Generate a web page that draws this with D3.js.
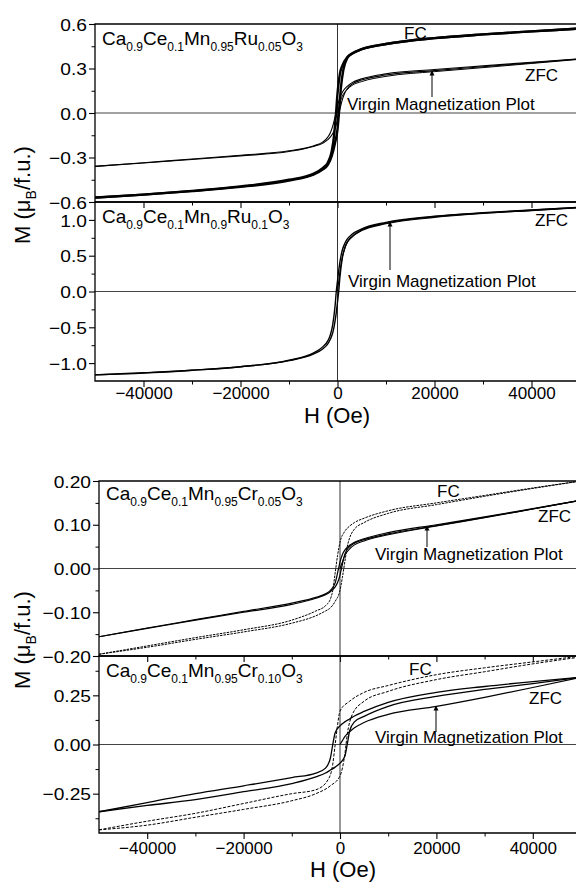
<!DOCTYPE html>
<html><head><meta charset="utf-8">
<script src="https://cdn.jsdelivr.net/npm/d3@7"></script>
<style>body{margin:0;background:#fff}svg{display:block}text{font-family:"Liberation Sans",Arial,Helvetica,sans-serif;fill:#000}</style>
</head><body>
<script>
// ---------- DATA ----------
const xTicksMajor = [-40000, -20000, 0, 20000, 40000];
const xTicksMinor = [-30000, -10000, 10000, 30000];

// Panel 1: Ca0.9Ce0.1Mn0.95Ru0.05O3
const ru05Ticks = [0.6, 0.3, 0.0, -0.3, -0.6];
const ru05Minor = [0.45, 0.15, -0.15, -0.45];
const ru05FCup = [[-50000,-0.57],[-40000,-0.55],[-30000,-0.525],[-20000,-0.495],[-10000,-0.45],[-5000,-0.41],[-3000,-0.37],[-2000,-0.335],[-1200,-0.26],[-700,-0.15],[-300,0.0],[0,0.13],[500,0.265],[1000,0.32],[2000,0.375],[3000,0.40],[5000,0.43],[10000,0.465],[20000,0.505],[30000,0.53],[40000,0.55],[50000,0.57]];
const ru05FClo = [[-50000,-0.57],[-40000,-0.55],[-30000,-0.527],[-20000,-0.498],[-10000,-0.455],[-5000,-0.415],[-3000,-0.38],[-2000,-0.35],[-1200,-0.29],[-500,-0.2],[0,-0.11],[300,0.0],[700,0.17],[1200,0.29],[2000,0.37],[3000,0.402],[5000,0.43],[10000,0.465],[20000,0.505],[30000,0.53],[40000,0.55],[50000,0.57]];
const ru05ZFCup = [[-50000,-0.36],[-40000,-0.335],[-30000,-0.31],[-20000,-0.285],[-10000,-0.255],[-5000,-0.222],[-3000,-0.195],[-2000,-0.163],[-1500,-0.135],[-1000,-0.09],[-600,-0.04],[-300,0.0],[0,0.045],[500,0.105],[1000,0.14],[2000,0.18],[3000,0.205],[5000,0.23],[10000,0.264],[20000,0.293],[30000,0.318],[40000,0.342],[50000,0.366]];
const ru05ZFClo = [[-50000,-0.36],[-40000,-0.337],[-30000,-0.313],[-20000,-0.289],[-10000,-0.26],[-5000,-0.226],[-3000,-0.203],[-2000,-0.18],[-1000,-0.14],[-500,-0.105],[0,-0.045],[300,0.0],[600,0.04],[1000,0.09],[1500,0.135],[2000,0.163],[3000,0.195],[5000,0.222],[10000,0.256],[20000,0.286],[30000,0.312],[40000,0.338],[50000,0.365]];
const ru05Virgin = [[0,0],[300,0.04],[700,0.09],[1000,0.115],[2000,0.158],[3000,0.186],[5000,0.212],[10000,0.247],[20000,0.279],[30000,0.306],[40000,0.334],[50000,0.362]];

// Panel 2: Ca0.9Ce0.1Mn0.9Ru0.1O3
const ru10Ticks = [1.0, 0.5, 0.0, -0.5, -1.0];
const ru10Minor = [0.75, 0.25, -0.25, -0.75];
const ru10ZFCup = [[-50000,-1.165],[-40000,-1.135],[-30000,-1.10],[-20000,-1.05],[-10000,-0.96],[-5000,-0.86],[-3000,-0.77],[-2000,-0.69],[-1500,-0.61],[-1000,-0.47],[-500,-0.2],[-250,0.0],[0,0.15],[300,0.32],[700,0.49],[1000,0.58],[1500,0.67],[2000,0.73],[3000,0.80],[5000,0.875],[10000,0.965],[20000,1.05],[30000,1.10],[40000,1.14],[50000,1.175]];
const ru10ZFClo = [[-50000,-1.165],[-40000,-1.14],[-30000,-1.10],[-20000,-1.05],[-10000,-0.965],[-5000,-0.875],[-3000,-0.80],[-2000,-0.73],[-1500,-0.67],[-1000,-0.58],[-700,-0.49],[-300,-0.32],[0,-0.15],[250,0.0],[500,0.2],[1000,0.47],[1500,0.61],[2000,0.69],[3000,0.77],[5000,0.86],[10000,0.955],[20000,1.045],[30000,1.095],[40000,1.135],[50000,1.175]];
const ru10Virgin = [[0,0],[300,0.17],[700,0.37],[1000,0.48],[1500,0.60],[2000,0.68],[3000,0.76],[5000,0.85],[10000,0.945],[20000,1.035],[30000,1.09],[40000,1.13],[50000,1.17]];

// Panel 3: Ca0.9Ce0.1Mn0.95Cr0.05O3
const cr05Ticks = [0.20, 0.10, 0.00, -0.10, -0.20];
const cr05Minor = [0.15, 0.05, -0.05, -0.15];
const cr05FCup = [[-50000,-0.196],[-40000,-0.177],[-30000,-0.158],[-20000,-0.140],[-10000,-0.118],[-5000,-0.097],[-3000,-0.085],[-2000,-0.07],[-1500,-0.05],[-1000,-0.01],[-500,0.03],[0,0.06],[1000,0.085],[2000,0.097],[3000,0.105],[5000,0.115],[10000,0.132],[20000,0.150],[30000,0.167],[40000,0.184],[50000,0.200]];
const cr05FClo = [[-50000,-0.196],[-40000,-0.180],[-30000,-0.162],[-20000,-0.145],[-10000,-0.125],[-5000,-0.108],[-3000,-0.097],[-2000,-0.09],[-1000,-0.075],[0,-0.05],[500,-0.02],[1000,0.015],[1500,0.05],[2000,0.07],[3000,0.09],[5000,0.105],[10000,0.126],[20000,0.146],[30000,0.165],[40000,0.183],[50000,0.200]];
const cr05ZFCup = [[-50000,-0.156],[-40000,-0.136],[-30000,-0.117],[-20000,-0.098],[-10000,-0.079],[-5000,-0.066],[-3000,-0.058],[-2000,-0.05],[-1000,-0.033],[-700,-0.02],[-300,0.0],[0,0.015],[500,0.032],[1000,0.042],[2000,0.053],[3000,0.060],[5000,0.068],[10000,0.082],[20000,0.100],[30000,0.118],[40000,0.137],[50000,0.156]];
const cr05ZFClo = [[-50000,-0.156],[-40000,-0.137],[-30000,-0.118],[-20000,-0.100],[-10000,-0.082],[-5000,-0.068],[-3000,-0.060],[-2000,-0.053],[-1000,-0.042],[-500,-0.032],[0,-0.015],[300,0.0],[700,0.02],[1000,0.033],[2000,0.05],[3000,0.058],[5000,0.066],[10000,0.079],[20000,0.098],[30000,0.117],[40000,0.136],[50000,0.156]];
const cr05Virgin = [[0,0],[500,0.015],[1000,0.03],[2000,0.045],[3000,0.054],[5000,0.063],[10000,0.077],[20000,0.097],[30000,0.116],[40000,0.136],[50000,0.156]];

// Panel 4: Ca0.9Ce0.1Mn0.95Cr0.10O3
const cr10Ticks = [0.25, 0.00, -0.25];
const cr10Minor = [0.375, 0.125, -0.125, -0.375];
const cr10FCup = [[-50000,-0.434],[-40000,-0.39],[-30000,-0.35],[-20000,-0.30],[-10000,-0.25],[-5000,-0.23],[-2500,-0.18],[-1500,-0.1],[-1000,0.0],[-500,0.1],[0,0.17],[2000,0.22],[5000,0.265],[10000,0.30],[20000,0.355],[30000,0.39],[40000,0.42],[50000,0.45]];
const cr10FClo = [[-50000,-0.434],[-40000,-0.41],[-30000,-0.37],[-20000,-0.33],[-10000,-0.286],[-5000,-0.25],[-2000,-0.21],[0,-0.16],[1000,-0.05],[1500,0.05],[2500,0.15],[5000,0.22],[10000,0.27],[20000,0.33],[30000,0.37],[40000,0.41],[50000,0.445]];
const cr10ZFCup = [[-50000,-0.342],[-40000,-0.295],[-30000,-0.25],[-20000,-0.21],[-10000,-0.168],[-5000,-0.145],[-3000,-0.12],[-2000,-0.07],[-1500,0.0],[-1000,0.06],[0,0.095],[1000,0.115],[2000,0.13],[3000,0.145],[5000,0.168],[10000,0.214],[20000,0.265],[30000,0.295],[40000,0.32],[50000,0.342]];
const cr10ZFClo = [[-50000,-0.342],[-40000,-0.31],[-30000,-0.28],[-20000,-0.24],[-10000,-0.199],[-5000,-0.165],[-3000,-0.145],[-2000,-0.13],[-1000,-0.115],[0,-0.095],[1000,-0.06],[1500,0.0],[2000,0.07],[3000,0.115],[5000,0.143],[10000,0.194],[20000,0.245],[30000,0.28],[40000,0.31],[50000,0.342]];
const cr10Virgin = [[0,0],[500,0.02],[1000,0.04],[2000,0.065],[3000,0.085],[5000,0.112],[10000,0.153],[20000,0.194],[30000,0.24],[40000,0.29],[50000,0.342]];

// ---------- DRAW ----------
const W = 576, Hgt = 882;
const svg = d3.select("body").append("svg").attr("width", W).attr("height", Hgt);
const FONT = '"Liberation Sans",Arial,Helvetica,sans-serif';

const defs = svg.append("defs");
defs.append("marker").attr("id","ah").attr("viewBox","0 0 10 10").attr("refX",9).attr("refY",5)
  .attr("markerWidth",5).attr("markerHeight",6).attr("markerUnits","userSpaceOnUse").attr("orient","auto")
  .append("path").attr("d","M0,0L10,5L0,10z").attr("fill","#000");

const figures = [
  { xRange:[95,580], tickLabelY:399, titleY:423, titleX:337,
    yLabelY:195,
    panels:[
      { top:24, bottom:202, domain:[-0.6,0.6], ticks:ru05Ticks, minor:ru05Minor, fmt:d3.format(".1f"),
        formula:[["Ca"],["0.9",1],["Ce"],["0.1",1],["Mn"],["0.95",1],["Ru"],["0.05",1],["O"],["3",1]], fy:45,
        series:[
          {d:ru05FCup, w:2.4},{d:ru05FClo, w:2.4},
          {d:ru05ZFCup, w:1.1},{d:ru05ZFClo, w:1.1},{d:ru05Virgin, w:1.0}],
        notes:[{t:"FC",x:404,y:39},{t:"ZFC",x:525,y:81},{t:"Virgin Magnetization Plot",x:347,y:110}],
        arrow:{x:432,y1:97,y2:71}},
      { top:202, bottom:381, domain:[-1.25,1.25], ticks:ru10Ticks, minor:ru10Minor, fmt:d3.format(".1f"),
        formula:[["Ca"],["0.9",1],["Ce"],["0.1",1],["Mn"],["0.9",1],["Ru"],["0.1",1],["O"],["3",1]], fy:223,
        series:[{d:ru10ZFCup, w:1.4},{d:ru10ZFClo, w:1.4},{d:ru10Virgin, w:1.1}],
        notes:[{t:"ZFC",x:535,y:226},{t:"Virgin Magnetization Plot",x:348,y:287}],
        arrow:{x:390,y1:270,y2:222}}
    ]},
  { xRange:[99,581], tickLabelY:854, titleY:877, titleX:343,
    yLabelY:640,
    panels:[
      { top:481, bottom:656, domain:[-0.2,0.2], ticks:cr05Ticks, minor:cr05Minor, fmt:d3.format(".2f"),
        formula:[["Ca"],["0.9",1],["Ce"],["0.1",1],["Mn"],["0.95",1],["Cr"],["0.05",1],["O"],["3",1]], fy:500,
        series:[
          {d:cr05FCup, w:1.0, dash:"2.5,1"},{d:cr05FClo, w:1.0, dash:"2.5,1"},
          {d:cr05ZFCup, w:1.2},{d:cr05ZFClo, w:1.2},{d:cr05Virgin, w:1.1}],
        notes:[{t:"FC",x:437,y:497},{t:"ZFC",x:538,y:522},{t:"Virgin Magnetization Plot",x:375,y:560}],
        arrow:{x:427,y1:547,y2:526}},
      { top:656, bottom:833, domain:[-0.45,0.45], ticks:cr10Ticks, minor:cr10Minor, fmt:d3.format(".2f"),
        formula:[["Ca"],["0.9",1],["Ce"],["0.1",1],["Mn"],["0.95",1],["Cr"],["0.10",1],["O"],["3",1]], fy:677,
        series:[
          {d:cr10FCup, w:1.0, dash:"3,1.5"},{d:cr10FClo, w:1.0, dash:"3,1.5"},
          {d:cr10ZFCup, w:1.3},{d:cr10ZFClo, w:1.3},{d:cr10Virgin, w:1.2}],
        notes:[{t:"FC",x:409,y:675},{t:"ZFC",x:529,y:704},{t:"Virgin Magnetization Plot",x:375,y:743}],
        arrow:{x:436,y1:732,y2:706}}
    ]}
];

let clipId = 0;
figures.forEach(fig => {
  const x = d3.scaleLinear().domain([-50000,50000]).range(fig.xRange);
  const left = fig.xRange[0];
  const g = svg.append("g");

  fig.panels.forEach((p, pi) => {
    const y = d3.scaleLinear().domain(p.domain).range([p.bottom, p.top]);
    const id = "clip" + (clipId++);
    defs.append("clipPath").attr("id", id).append("rect")
      .attr("x", left).attr("y", p.top).attr("width", W - left).attr("height", p.bottom - p.top);

    // zero lines
    g.append("line").attr("x1", left).attr("x2", W).attr("y1", y(0)).attr("y2", y(0))
      .attr("stroke", "#444").attr("stroke-width", 1);
    g.append("line").attr("x1", x(0)).attr("x2", x(0)).attr("y1", p.top).attr("y2", p.bottom)
      .attr("stroke", "#333").attr("stroke-width", 1);

    // curves
    const line = d3.line().x(d => x(d[0])).y(d => y(d[1])).curve(d3.curveMonotoneX);
    const cg = g.append("g").attr("clip-path", `url(#${id})`);
    p.series.forEach(s => {
      cg.append("path").attr("d", line(s.d)).attr("fill", "none").attr("stroke", "#000")
        .attr("stroke-width", s.w).attr("stroke-dasharray", s.dash || null)
        .attr("stroke-linejoin", "round");
    });

    // y axis
    const ya = d3.axisLeft(y).tickValues(p.ticks).tickFormat(p.fmt).tickSize(6).tickPadding(2);
    const yg = g.append("g").attr("transform", `translate(${left},0)`).call(ya);
    yg.select(".domain").remove();
    yg.selectAll("text").style("font-size", "17px").style("font-family", FONT).attr("dy", "0.36em")
      .attr("x", null)
      .attr("transform", "translate(-8,0) scale(1.13,1)");
    yg.selectAll("line").attr("stroke-width", 1.1);
    const ym = d3.axisLeft(y).tickValues(p.minor).tickFormat("").tickSize(3.5);
    const ymg = g.append("g").attr("transform", `translate(${left},0)`).call(ym);
    ymg.select(".domain").remove();

    // x axis ticks on panel bottom
    const xa = d3.axisBottom(x).tickValues(xTicksMajor).tickSize(6).tickFormat(pi === fig.panels.length - 1 ? d3.format("d") : "");
    const xg = g.append("g").attr("transform", `translate(0,${p.bottom})`).call(xa);
    xg.select(".domain").remove();
    xg.selectAll("text").style("font-size", "17px").style("font-family", FONT).attr("y", null).attr("dy", null)
      .attr("transform", `translate(0,${fig.tickLabelY - p.bottom})`);
    xg.selectAll("line").attr("stroke-width", 1.1);
    const xm = d3.axisBottom(x).tickValues(xTicksMinor).tickSize(3.5).tickFormat("");
    const xmg = g.append("g").attr("transform", `translate(0,${p.bottom})`).call(xm);
    xmg.select(".domain").remove();

    // frame
    g.append("path").attr("d", `M${W+5},${p.top}H${left}V${p.bottom}H${W+5}`)
      .attr("fill", "none").attr("stroke", "#000").attr("stroke-width", 1.3);

    // formula label
    const ft = g.append("text").attr("x", left + 7).attr("y", p.fy).style("font-size", "19px");
    let sub = false;
    p.formula.forEach(([s, isSub]) => {
      const ts = ft.append("tspan").text(s);
      if (isSub && !sub) { ts.attr("dy", 6).style("font-size", "12px"); sub = true; }
      else if (isSub) { ts.style("font-size", "12px"); }
      else if (!isSub && sub) { ts.attr("dy", -6); sub = false; }
    });

    // annotations
    p.notes.forEach(n => {
      g.append("text").attr("x", n.x).attr("y", n.y).style("font-size", "17px").text(n.t);
    });
    g.append("line").attr("x1", p.arrow.x).attr("x2", p.arrow.x).attr("y1", p.arrow.y1).attr("y2", p.arrow.y2)
      .attr("stroke", "#000").attr("stroke-width", 1).attr("marker-end", "url(#ah)");
  });

  // axis titles
  g.append("text").attr("x", fig.titleX).attr("y", fig.titleY).attr("text-anchor", "middle")
    .style("font-size", "22px").text("H (Oe)");
  const yl = g.append("text").attr("transform", `translate(30,${fig.yLabelY}) rotate(-90)`)
    .attr("text-anchor", "middle").style("font-size", "22px");
  yl.append("tspan").text("M (μ");
  yl.append("tspan").attr("dy", 6).style("font-size", "14px").text("B");
  yl.append("tspan").attr("dy", -6).text("/f.u.)");
});
</script>
</body></html>
